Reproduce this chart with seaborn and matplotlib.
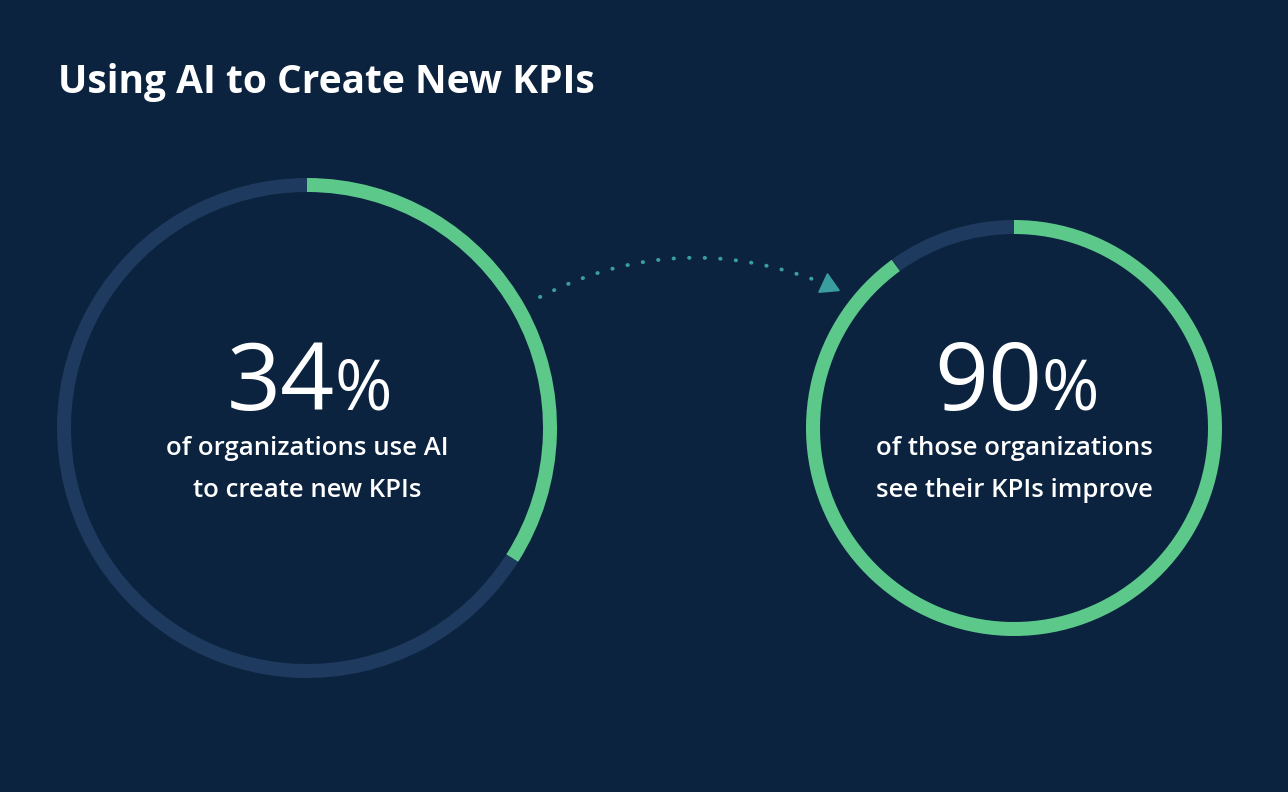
import matplotlib
matplotlib.use("Agg")
import matplotlib.pyplot as plt
import seaborn as sns

sns.set_theme(style="white")
plt.rcParams['font.family'] = ['Open Sans', 'DejaVu Sans']

title = "Using AI to Create New KPIs"
values = [34, 90]
numbers = ["34", "90"]
captions = ["of organizations use AI\nto create new KPIs",
            "of those organizations\nsee their KPIs improve"]
centers = [(307, 364), (1014, 364)]
radii = [250, 208]

BG = "#0c2340"; TRACK = "#1e3a5e"; GREEN = "#5cc98a"; TEAL = "#3a9e9e"

fig = plt.figure(figsize=(12.88, 7.92), dpi=100, facecolor=BG)
ax = fig.add_axes([0, 0, 1, 1])
ax.set_facecolor(BG)

for v, c, r, num, cap in zip(values, centers, radii, numbers, captions):
    ax.pie([v, 100 - v], colors=[GREEN, TRACK], startangle=90, counterclock=False,
           center=c, radius=r, wedgeprops=dict(width=14, linewidth=0), frame=True)
    ax.text(c[0] + 28, c[1] + 18, num, color="white", fontsize=68, ha="right", va="baseline")
    ax.text(c[0] + 28, c[1] + 18, "%", color="white", fontsize=50, ha="left", va="baseline")
    ax.text(c[0], c[1] - 8, cap, color="white", fontsize=18.5, fontweight="semibold",
            ha="center", va="top", linespacing=1.9)

ax.annotate("", xy=(815, 512), xytext=(540, 495),
            arrowprops=dict(arrowstyle="-", linestyle=(0, (0.1, 3.9)), color=TEAL, lw=2.8,
                            capstyle="round",
                            connectionstyle="arc3,rad=-0.22", shrinkA=0, shrinkB=0))
ax.plot([828], [507], marker=(3, 0, -115), markersize=17, color=TEAL, linestyle="none")

ax.text(58, 710, title, color="white", fontsize=28, fontweight="bold", ha="left", va="center")

ax.set_xlim(0, 1288); ax.set_ylim(0, 792)
ax.set_aspect("equal")
ax.axis("off")
fig.savefig("out.png", dpi=100, facecolor=BG)
